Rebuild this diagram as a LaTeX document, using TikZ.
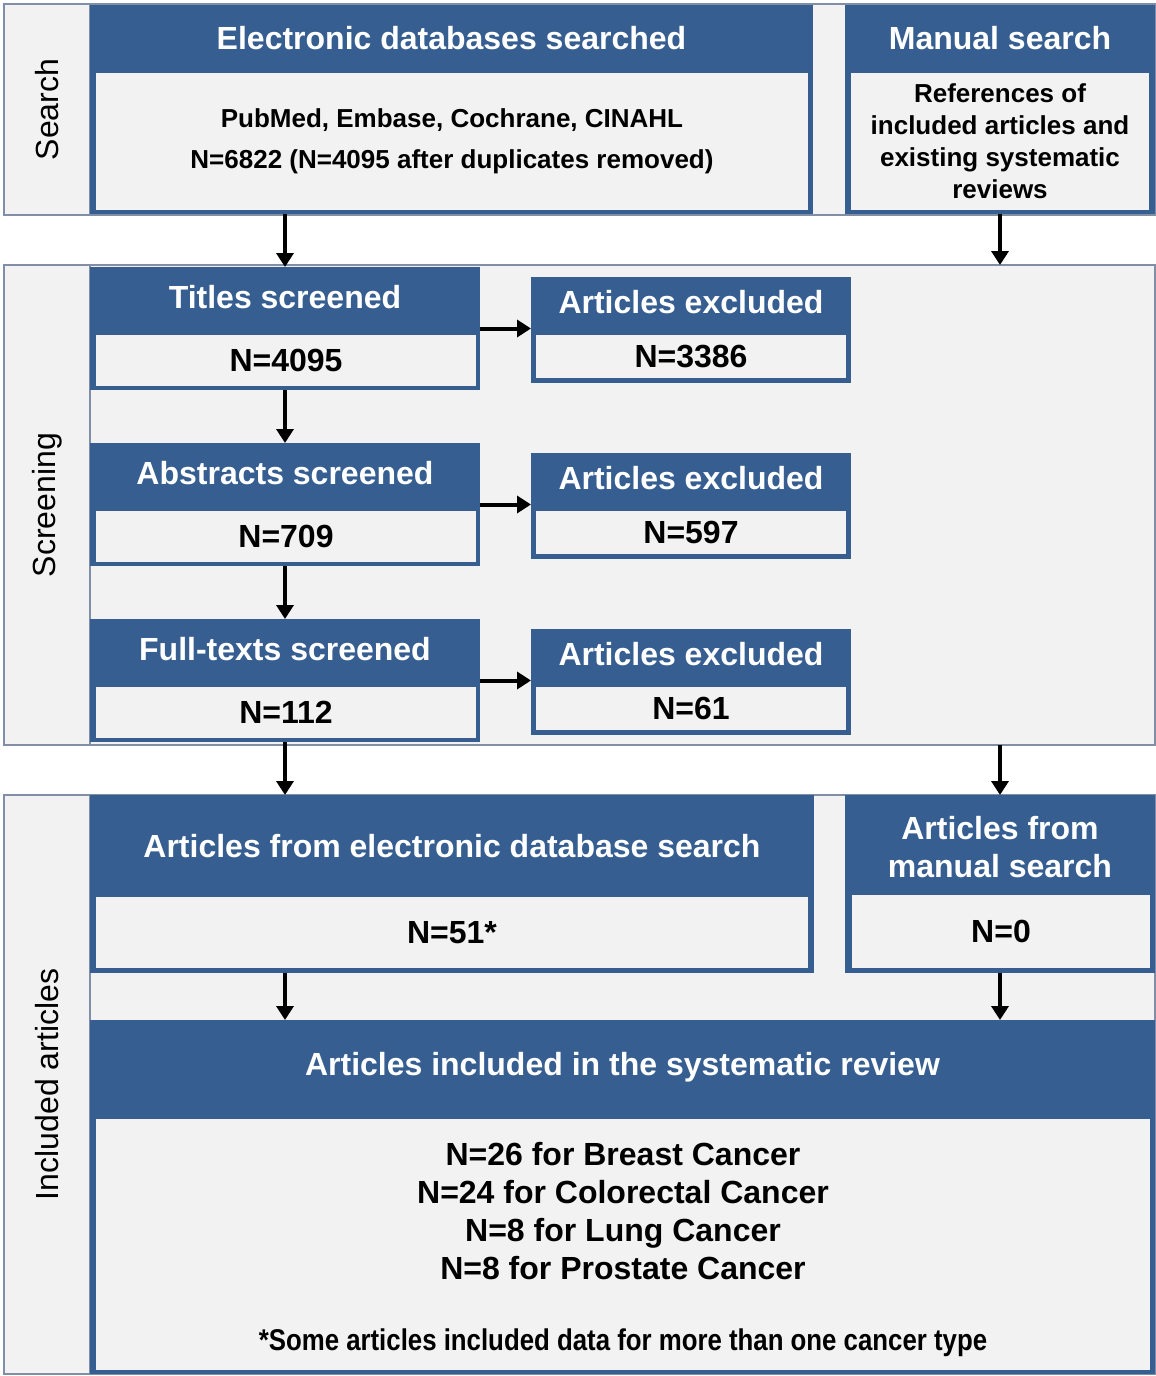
\documentclass[tikz,border=0pt]{standalone}
\usepackage{fontspec}
\setmainfont{Liberation Sans}
\newfontfamily\narrowfont[FakeStretch=0.86]{Liberation Sans}
\usetikzlibrary{arrows.meta}

\definecolor{hdrblue}{RGB}{54,94,145}
\definecolor{paper}{RGB}{242,242,242}
\definecolor{edgegray}{RGB}{128,143,165}

\tikzset{
	section/.style={draw=edgegray, line width=2pt, fill=paper, anchor=north west, inner sep=0pt, outer sep=0pt},
	bluebox/.style={fill=hdrblue, anchor=north west, inner sep=0pt, outer sep=0pt},
	bodybox/.style={fill=paper, anchor=north west, inner sep=0pt, outer sep=0pt, align=center,
		font=\fontsize{26}{32}\selectfont\bfseries},
	headtext/.style={text=white, align=center, font=\fontsize{32}{38}\selectfont\bfseries},
	numtext/.style={font=\fontsize{32}{38}\selectfont\bfseries},
	sidelabel/.style={rotate=90, font=\fontsize{32}{38}\selectfont},
	arr/.style={-{Triangle[width=17pt,length=14pt]}, line width=4pt},
}

\begin{document}
\begin{tikzpicture}[x=1pt, y=-1pt]
		\useasboundingbox (0,0) rectangle (1156,1376);
		
		% search
		\node[section, minimum width=1151pt, minimum height=211pt] (search) at (4,4) {};
		\node[section, minimum width=86pt, minimum height=211pt] (searchlbl) at (4,4) {};
		\node[sidelabel] at (searchlbl.center) {Search};
		
		\node[bluebox, minimum width=723pt, minimum height=209pt] (elec) at (90,5) {};
		\node[headtext] at ([yshift=-33pt]elec.north) {Electronic databases searched};
		\node[bodybox, minimum width=712pt, minimum height=137pt] (elecbody) at (96,73)
			{PubMed, Embase, Cochrane, CINAHL\\[9pt]N=6822 (N=4095 after duplicates removed)};
		
		\node[bluebox, minimum width=310pt, minimum height=209pt] (man) at (845,5) {};
		\node[headtext] at ([yshift=-33pt]man.north) {Manual search};
		\node[bodybox, minimum width=298pt, minimum height=137pt] (manbody) at (851,73)
			{References of\\included articles and\\existing systematic\\reviews};
		
		% screening
		\node[section, minimum width=1151pt, minimum height=480pt] (screening) at (4,265) {};
		\node[section, minimum width=86pt, minimum height=480pt] (screenlbl) at (4,265) {};
		\node[sidelabel] at (screenlbl.center) {Screening};
		
		\node[bluebox, minimum width=390pt, minimum height=123pt] (titles) at (90,267) {};
		\node[headtext] at ([yshift=-30pt]titles.north) {Titles screened};
		\node[bodybox, minimum width=380pt, minimum height=51pt] (titlesbody) at (96,335) {};
		\node[numtext] at (titlesbody.center) {N=4095};
		
		\node[bluebox, minimum width=320pt, minimum height=106pt] (excl1) at (531,277) {};
		\node[headtext] at ([yshift=-25pt]excl1.north) {Articles excluded};
		\node[bodybox, minimum width=310pt, minimum height=43pt] (excl1body) at (536,335) {};
		\node[numtext] at (excl1body.center) {N=3386};
		
		\node[bluebox, minimum width=390pt, minimum height=123pt] (abstracts) at (90,443) {};
		\node[headtext] at ([yshift=-30pt]abstracts.north) {Abstracts screened};
		\node[bodybox, minimum width=380pt, minimum height=51pt] (abstractsbody) at (96,511) {};
		\node[numtext] at (abstractsbody.center) {N=709};
		
		\node[bluebox, minimum width=320pt, minimum height=106pt] (excl2) at (531,453) {};
		\node[headtext] at ([yshift=-25pt]excl2.north) {Articles excluded};
		\node[bodybox, minimum width=310pt, minimum height=43pt] (excl2body) at (536,511) {};
		\node[numtext] at (excl2body.center) {N=597};
		
		\node[bluebox, minimum width=390pt, minimum height=123pt] (full) at (90,619) {};
		\node[headtext] at ([yshift=-30pt]full.north) {Full-texts screened};
		\node[bodybox, minimum width=380pt, minimum height=51pt] (fullbody) at (96,687) {};
		\node[numtext] at (fullbody.center) {N=112};
		
		\node[bluebox, minimum width=320pt, minimum height=106pt] (excl3) at (531,629) {};
		\node[headtext] at ([yshift=-25pt]excl3.north) {Articles excluded};
		\node[bodybox, minimum width=310pt, minimum height=43pt] (excl3body) at (536,687) {};
		\node[numtext] at (excl3body.center) {N=61};
		
		% included articles
		\node[section, minimum width=1151pt, minimum height=579pt] (included) at (4,795) {};
		\node[section, minimum width=86pt, minimum height=579pt] (includedlbl) at (4,795) {};
		\node[sidelabel] at (includedlbl.center) {Included articles};
		
		\node[bluebox, minimum width=724pt, minimum height=178pt] (artdb) at (90,795) {};
		\node[headtext] at ([yshift=-51pt]artdb.north) {Articles from electronic database search};
		\node[bodybox, minimum width=712pt, minimum height=71pt] (artdbbody) at (96,897) {};
		\node[numtext] at (artdbbody.center) {N=51*};
		
		\node[bluebox, minimum width=310pt, minimum height=178pt] (artman) at (845,795) {};
		\node[headtext] at ([yshift=-52pt]artman.north) {Articles from\\manual search};
		\node[bodybox, minimum width=298pt, minimum height=73pt] (artmanbody) at (852,895) {};
		\node[numtext] at (artmanbody.center) {N=0};
		
		\node[bluebox, minimum width=1065pt, minimum height=354pt] (incl) at (90,1020) {};
		\node[headtext] at ([yshift=-47pt]incl.north) {Articles included in the systematic review};
		\node[bodybox, minimum width=1054pt, minimum height=251pt] (inclbody) at (96,1119) {};
		\node[numtext, align=center] (cancers) at ([yshift=-92pt]inclbody.north)
			{N=26 for Breast Cancer\\N=24 for Colorectal Cancer\\N=8 for Lung Cancer\\N=8 for Prostate Cancer};
		\node[font=\narrowfont\fontsize{30}{36}\selectfont\bfseries] (note) at ([yshift=27pt]inclbody.south)
			{*Some articles included data for more than one cancer type};
		
		% arrows
		\draw[arr] (elec.south -| titles.north) -- (titles.north);
		\draw[arr] (man.south) -- (man.south |- screening.north);
		\draw[arr] (titles.south) -- (abstracts.north);
		\draw[arr] (abstracts.south) -- (full.north);
		\draw[arr] (titles.east) -- (titles.east -| excl1.west);
		\draw[arr] (abstracts.east) -- (abstracts.east -| excl2.west);
		\draw[arr] (full.east) -- (full.east -| excl3.west);
		\draw[arr] (full.south) -- (full.south |- artdb.north);
		\draw[arr] (artman.north |- screening.south) -- (artman.north);
		\draw[arr] (full.south |- artdb.south) -- (full.south |- incl.north);
		\draw[arr] (artman.south) -- (artman.south |- incl.north);
	\end{tikzpicture}
\end{document}
